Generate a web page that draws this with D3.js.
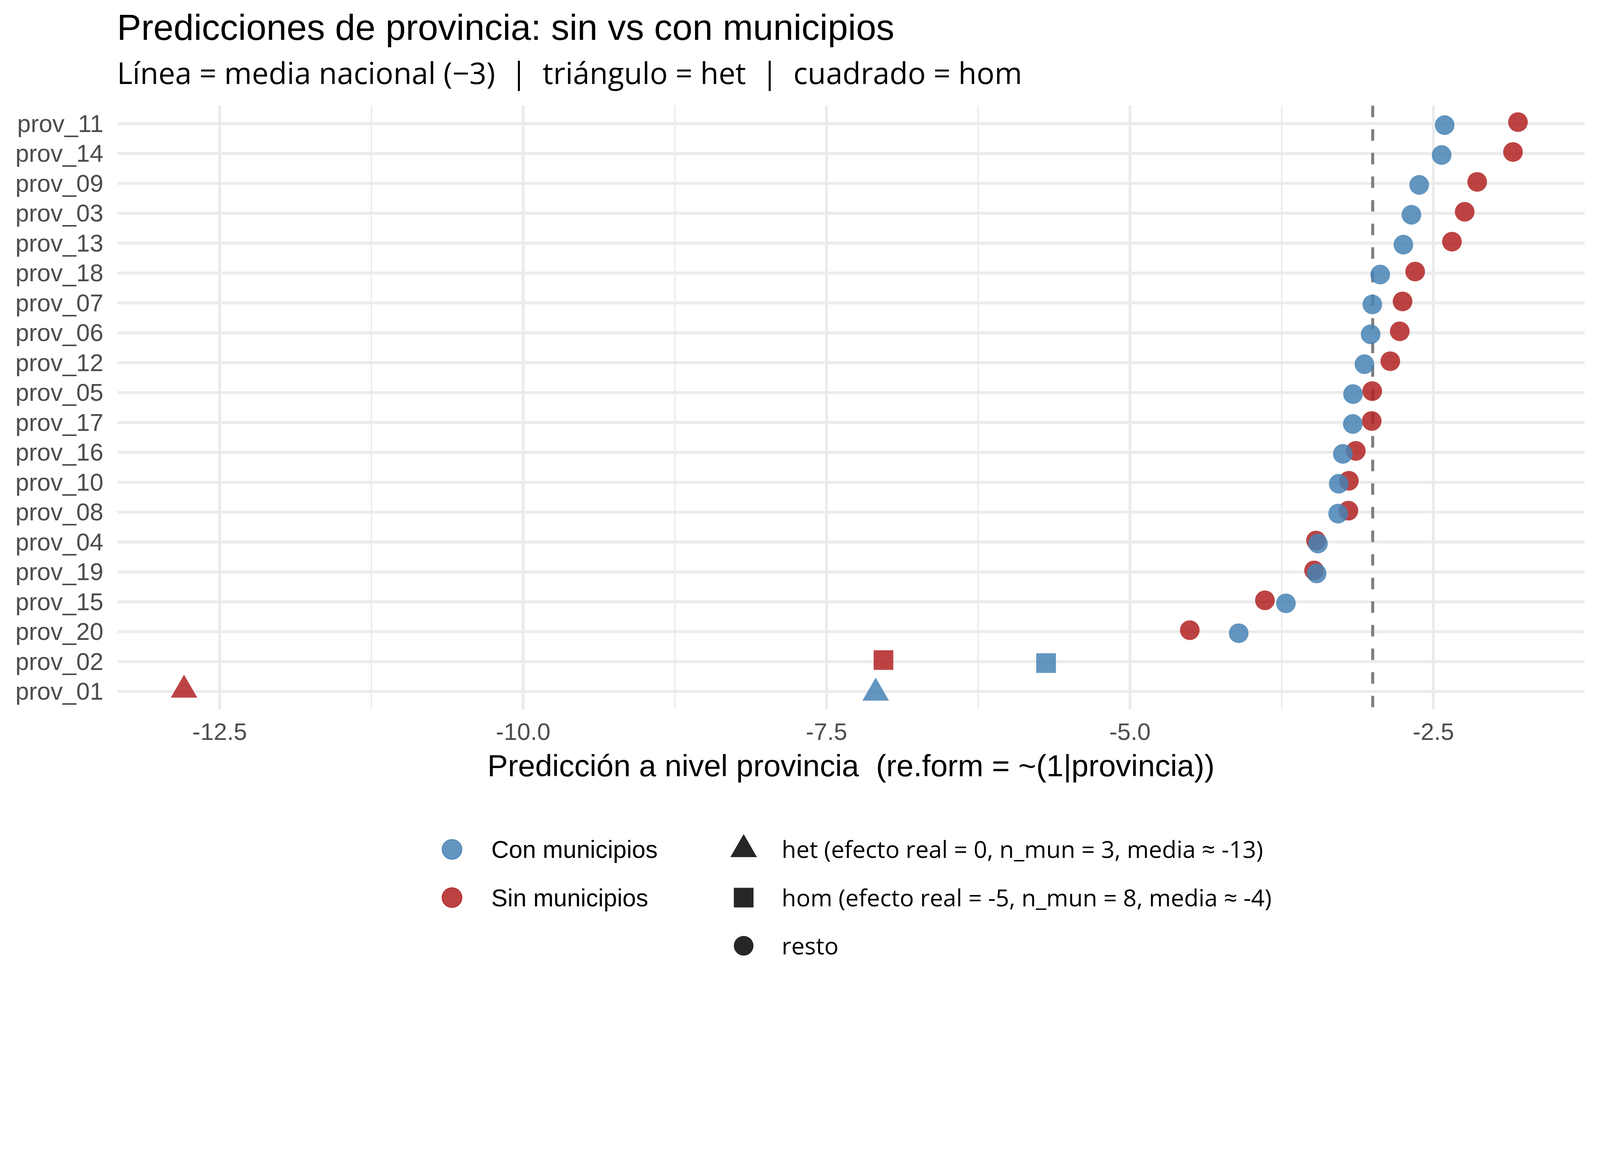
<!DOCTYPE html>
<html>
<head>
<meta charset="utf-8">
<script src="https://cdn.jsdelivr.net/npm/d3@7"></script>
<style>
  html, body { margin: 0; padding: 0; background: #ffffff; width: 100%; height: 100%; overflow: hidden; }
  svg { display: block; width: 100vw; height: 100vh; }
  text { white-space: pre; }
</style>
</head>
<body>
<script>
// ---------------- data ----------------
const provincias = ["prov_11","prov_14","prov_09","prov_03","prov_13","prov_18","prov_07","prov_06","prov_12","prov_05",
                    "prov_17","prov_16","prov_10","prov_08","prov_04","prov_19","prov_15","prov_20","prov_02","prov_01"];
const conMunicipios = [-2.407,-2.432,-2.617,-2.681,-2.747,-2.938,-3.003,-3.017,-3.068,-3.162,
                       -3.164,-3.246,-3.280,-3.285,-3.451,-3.462,-3.715,-4.104,-5.691,-7.095];
const sinMunicipios = [-1.803,-1.844,-2.139,-2.242,-2.347,-2.650,-2.754,-2.777,-2.855,-3.004,
                       -3.008,-3.139,-3.196,-3.200,-3.467,-3.483,-3.888,-4.507,-7.031,-12.794];
const tipoProvincia = ["resto","resto","resto","resto","resto","resto","resto","resto","resto","resto",
                       "resto","resto","resto","resto","resto","resto","resto","resto","hom","het"];
const mediaNacional = -3;
const xTicks = [-12.5, -10, -7.5, -5, -2.5];
const xMinorTicks = [-11.25, -8.75, -6.25, -3.75];
const modelos = ["Sin municipios", "Con municipios"];
const colorLegend = ["Con municipios", "Sin municipios"];
const tipos = ["het", "hom", "resto"];
const tipoLabels = ["het (efecto real = 0, n_mun = 3, media \u2248 -13)",
                    "hom (efecto real = -5, n_mun = 8, media \u2248 -4)",
                    "resto"];
const title = "Predicciones de provincia: sin vs con municipios";
const subtitle = "L\u00ednea = media nacional (\u22123)  |  tri\u00e1ngulo = het  |  cuadrado = hom";
const xTitle = "Predicci\u00f3n a nivel provincia  (re.form = ~(1|provincia))";

// long table built from the arrays
const rows = [];
modelos.forEach(m => {
  const vals = m === "Con municipios" ? conMunicipios : sinMunicipios;
  provincias.forEach((p, i) => rows.push({ prov: p, modelo: m, value: vals[i], tipo: tipoProvincia[i] }));
});

// ---------------- layout ----------------
const W = 4800, H = 3000;
const panel = { left: 352, right: 4754, top: 317, bottom: 2128 };
const sansA = "'Liberation Sans', Arial, sans-serif";
const sansB = "'Open Sans', 'Noto Sans', sans-serif";

const svg = d3.select("body").append("svg")
  .attr("viewBox", `0 0 ${W} ${H}`)
  .attr("preserveAspectRatio", "xMinYMin meet");
svg.append("rect").attr("width", W).attr("height", H).attr("fill", "#ffffff");

const allVals = conMunicipios.concat(sinMunicipios);
const [vmin, vmax] = d3.extent(allVals);
const pad = (vmax - vmin) * 0.05;
const x = d3.scaleLinear().domain([vmin - pad, vmax + pad]).range([panel.left, panel.right]);
const y = d3.scalePoint().domain(provincias).range([panel.top, panel.bottom]).padding(0.6);
const dodge = d3.scalePoint().domain(modelos).range([-4.5, 4.5]);
const color = d3.scaleOrdinal().domain(["Con municipios", "Sin municipios"]).range(["#4682B4", "#B22222"]);
const symbolType = d3.scaleOrdinal().domain(tipos).range([d3.symbolTriangle, d3.symbolSquare, d3.symbolCircle]);
const symbolSize = d3.scaleOrdinal().domain(tipos).range([2750, 3480, 2735]);
const sym = t => d3.symbol().type(symbolType(t)).size(symbolSize(t))();

// ---------------- grid ----------------
const grid = svg.append("g");
grid.selectAll(".minor").data(xMinorTicks).join("line")
  .attr("x1", d => x(d)).attr("x2", d => x(d)).attr("y1", panel.top).attr("y2", panel.bottom)
  .attr("stroke", "#EBEBEB").attr("stroke-width", 4.2);
grid.selectAll(".majx").data(xTicks).join("line")
  .attr("x1", d => x(d)).attr("x2", d => x(d)).attr("y1", panel.top).attr("y2", panel.bottom)
  .attr("stroke", "#EBEBEB").attr("stroke-width", 8.4);
grid.selectAll(".majy").data(provincias).join("line")
  .attr("x1", panel.left).attr("x2", panel.right).attr("y1", d => y(d)).attr("y2", d => y(d))
  .attr("stroke", "#EBEBEB").attr("stroke-width", 8.4);

// ---------------- reference line ----------------
svg.append("line")
  .attr("x1", x(mediaNacional)).attr("x2", x(mediaNacional))
  .attr("y1", panel.top).attr("y2", panel.bottom)
  .attr("stroke", "#7F7F7F").attr("stroke-width", 9)
  .attr("stroke-dasharray", "34.5,36.3");

// ---------------- points ----------------
svg.append("g").selectAll("path").data(rows).join("path")
  .attr("d", d => sym(d.tipo))
  .attr("transform", d => `translate(${x(d.value)},${y(d.prov) + dodge(d.modelo)})`)
  .attr("fill", d => color(d.modelo))
  .attr("fill-opacity", 0.85);

// ---------------- axes text ----------------
const xAxis = svg.append("g");
xAxis.selectAll("text").data(xTicks).join("text")
  .attr("x", d => x(d)).attr("y", 2220)
  .attr("text-anchor", "middle")
  .attr("font-family", sansA).attr("font-size", 72).attr("fill", "#4D4D4D")
  .text(d => d3.format(".1f")(d).replace("\u2212", "-"));

const yAxis = svg.append("g");
yAxis.selectAll("text").data(provincias).join("text")
  .attr("x", 310).attr("y", d => y(d) + 25)
  .attr("text-anchor", "end")
  .attr("font-family", sansA).attr("font-size", 73).attr("fill", "#4D4D4D")
  .text(d => d);

svg.append("text")
  .attr("x", (panel.left + panel.right) / 2).attr("y", 2328)
  .attr("text-anchor", "middle")
  .attr("font-family", sansA).attr("font-size", 92).attr("fill", "#000000")
  .text(xTitle);

// ---------------- titles ----------------
svg.append("text").attr("x", 351).attr("y", 120)
  .attr("font-family", sansA).attr("font-size", 109).attr("fill", "#000000")
  .text(title);
svg.append("text").attr("x", 351).attr("y", 252)
  .attr("font-family", sansB).attr("font-size", 89.5).attr("fill", "#000000")
  .text(subtitle);

// ---------------- legends ----------------
const legRowY = d3.scalePoint().domain([0, 1, 2]).range([2548, 2837]);

const legColor = svg.append("g");
colorLegend.forEach((m, i) => {
  legColor.append("circle")
    .attr("cx", 1356).attr("cy", legRowY(i)).attr("r", 29.5)
    .attr("fill", color(m)).attr("fill-opacity", 0.85)
    .attr("stroke", color(m)).attr("stroke-opacity", 0.85).attr("stroke-width", 3);
  legColor.append("text")
    .attr("x", 1474).attr("y", legRowY(i) + 26)
    .attr("font-family", sansA).attr("font-size", 73).attr("fill", "#000000")
    .text(m);
});

const legShape = svg.append("g");
tipos.forEach((t, i) => {
  legShape.append("path")
    .attr("d", sym(t))
    .attr("transform", `translate(2231,${legRowY(i)})`)
    .attr("fill", "#000000").attr("fill-opacity", 0.85);
  legShape.append("text")
    .attr("x", 2345).attr("y", legRowY(i) + 26)
    .attr("font-family", sansB).attr("font-size", 71).attr("fill", "#000000")
    .text(tipoLabels[i]);
});
</script>
</body>
</html>
